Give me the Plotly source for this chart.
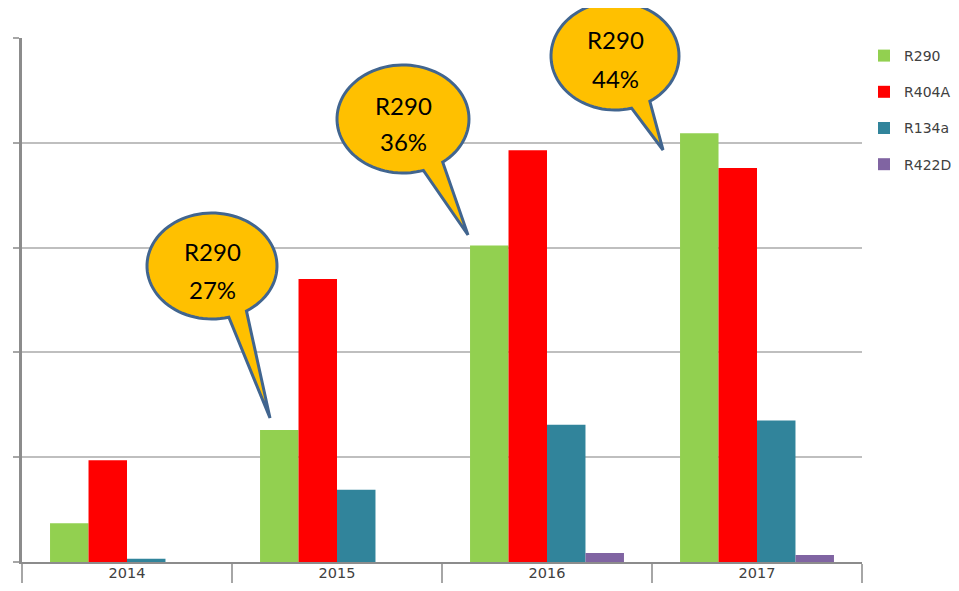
import math
import plotly.graph_objects as go

# ---- data ----
years = ["2014", "2015", "2016", "2017"]
r290 = [370, 1260, 3020, 4090]
r404a = [970, 2700, 3930, 3760]
r134a = [30, 690, 1310, 1350]
r422d = [0, 0, 86, 67]
series_names = ["R290", "R404A", "R134a", "R422D"]
callout_titles = ["R290", "R290", "R290"]
callout_shares = ["27%", "36%", "44%"]

colors = ["#92D050", "#FF0000", "#31849B", "#8064A2"]

# page has an 8px body margin on every side: keep the figure inside the window
OFF = 8
W, H = 959 - 2 * OFF, 591 - 2 * OFF
# plot area in page pixels: x 22..862, y 38..562
PX0, PX1, PY0, PY1 = 22, 862, 38, 562
L, T = PX0 - OFF, PY0 - OFF
R, B = W - (PX1 - OFF), H - (PY1 - OFF)
PW, PH = PX1 - PX0, PY1 - PY0


def px2paper(x, y):
    """page pixel -> paper coords"""
    return (x - PX0) / PW, (PY1 - y) / PH


fig = go.Figure()
for i, (name, vals) in enumerate(zip(series_names, [r290, r404a, r134a, r422d])):
    fig.add_trace(go.Bar(
        x=years, y=vals, name=name, marker=dict(color=colors[i], line=dict(width=0)),
        legendgroup=name,
    ))

# speech bubbles (pixel geometry of the callouts)
bubbles = [
    dict(cx=212, cy=266, rx=65, ry=53, a1=58, a2=75, tip=(270, 418), ty=(252, 289)),
    dict(cx=403, cy=119, rx=66, ry=54, a1=53, a2=72, tip=(468, 235), ty=(105, 141)),
    dict(cx=615, cy=56, rx=64, ry=54, a1=57, a2=75, tip=(663, 150), ty=(40, 78)),
]
shapes = []
annotations = []
for k, b in enumerate(bubbles):
    pts = []
    n = 90
    start, end = b["a2"], b["a1"] + 360
    for j in range(n + 1):
        a = math.radians(start + (end - start) * j / n)
        pts.append(px2paper(b["cx"] + b["rx"] * math.cos(a), b["cy"] + b["ry"] * math.sin(a)))
    pts.append(px2paper(*b["tip"]))
    path = "M" + " L".join(f"{x:.5f},{y:.5f}" for x, y in pts) + " Z"
    shapes.append(dict(type="path", xref="paper", yref="paper", path=path,
                       fillcolor="#FFC000", line=dict(color="#41658F", width=3), layer="above"))
    for txt, yy in zip([callout_titles[k], callout_shares[k]], b["ty"]):
        xp, yp = px2paper(b["cx"], yy)
        annotations.append(dict(x=xp, y=yp, xref="paper", yref="paper", text=txt,
                                showarrow=False, xanchor="center", yanchor="middle",
                                font=dict(family="Lato", size=24, color="#000000")))

lx, ly = px2paper(864, 40)
fig.update_layout(
    width=W, height=H,
    margin=dict(l=L, r=R, t=T, b=B, pad=0, autoexpand=False),
    plot_bgcolor="white", paper_bgcolor="white",
    barmode="group", bargap=0.267, bargroupgap=0,
    showlegend=True,
    legend=dict(x=lx, y=ly, xanchor="left", yanchor="top",
                font=dict(family="DejaVu Sans", size=14, color="#404040"),
                tracegroupgap=15, bgcolor="rgba(0,0,0,0)", borderwidth=0),
    shapes=shapes, annotations=annotations,
    font=dict(family="DejaVu Sans"),
)
fig.update_xaxes(
    type="category", showgrid=False, showline=True, linecolor="#8C8C8C", linewidth=2,
    ticks="outside", tickson="boundaries", ticklen=29, tickwidth=2, tickcolor="#A6A6A6",
    ticklabelstandoff=-3,
    tickfont=dict(family="DejaVu Sans", size=14.5, color="#404040"),
)
fig.update_yaxes(
    range=[0, 5000], dtick=1000, showticklabels=False, showgrid=True,
    gridcolor="#BFBFBF", gridwidth=2, zeroline=False,
    showline=True, linecolor="#8C8C8C", linewidth=3,
    ticks="outside", ticklen=6, tickwidth=2, tickcolor="#A6A6A6",
)
fig.write_html("out.html")
